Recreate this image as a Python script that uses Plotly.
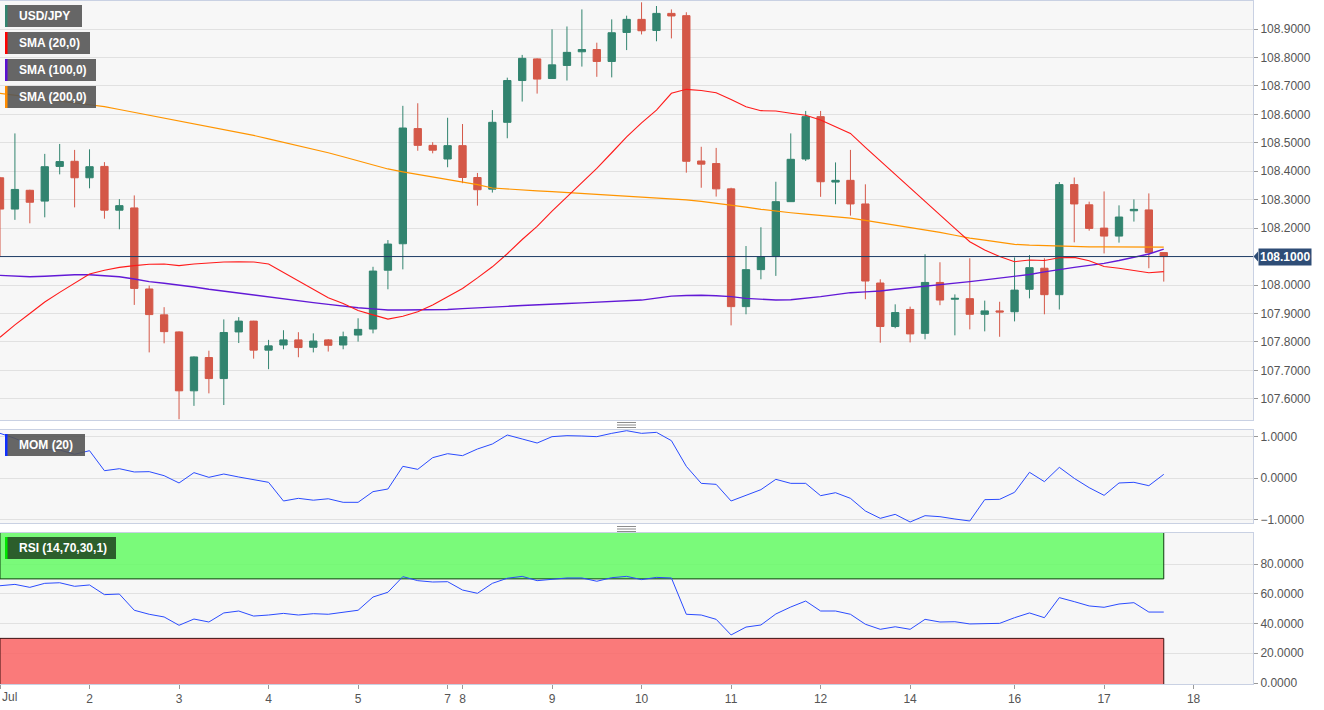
import plotly.graph_objects as go

# ---------------- data (4h candles, USD/JPY) ----------------
opens = [108.377,108.267,108.333,108.295,108.417,108.435,108.377,108.417,108.263,108.271,
         107.986,107.895,107.835,107.628,107.745,107.671,107.835,107.873,107.771,107.789,
         107.807,107.781,107.807,107.789,107.824,107.845,108.052,108.145,108.550,108.491,
         108.443,108.490,108.378,108.337,108.572,108.719,108.795,108.726,108.772,108.820,
         108.828,108.786,108.888,108.934,108.895,108.955,108.947,108.436,108.427,108.338,
         107.924,108.054,108.100,108.293,108.443,108.592,108.362,108.368,108.285,108.007,
         107.854,107.914,107.830,108.009,107.950,107.952,107.897,107.909,107.906,107.985,
         108.059,107.966,108.353,108.282,108.200,108.172,108.261,108.264,108.114]
highs = [108.380,108.533,108.335,108.461,108.496,108.475,108.477,108.432,108.302,108.315,
         107.998,107.922,107.837,107.749,107.769,107.879,107.887,107.874,107.807,107.841,
         107.834,107.830,107.810,107.836,107.883,108.064,108.158,108.630,108.639,108.502,
         108.588,108.566,108.394,108.615,108.729,108.809,108.797,108.899,108.909,108.969,
         108.852,108.934,108.947,108.994,108.981,108.969,108.959,108.486,108.482,108.342,
         108.137,108.203,108.363,108.533,108.612,108.612,108.431,108.475,108.354,108.020,
         107.932,107.924,108.108,108.080,107.967,108.094,107.945,107.941,108.097,108.105,
         108.094,108.362,108.378,108.293,108.329,108.280,108.301,108.322,108.114]
lows = [108.100,108.229,108.217,108.238,108.389,108.273,108.340,108.233,108.196,107.930,
        107.763,107.795,107.528,107.575,107.619,107.578,107.796,107.741,107.704,107.774,
        107.746,107.763,107.766,107.774,107.801,107.830,107.985,108.055,108.472,108.463,
        108.414,108.358,108.279,108.325,108.516,108.645,108.673,108.726,108.719,108.768,
        108.732,108.730,108.826,108.881,108.857,108.867,108.395,108.342,108.311,107.858,
        107.897,108.020,108.032,108.292,108.436,108.310,108.284,108.244,107.950,107.797,
        107.848,107.798,107.809,107.929,107.823,107.844,107.837,107.818,107.872,107.953,
        107.897,107.914,108.150,108.191,108.111,108.149,108.223,108.059,108.012]
closes = [108.267,108.336,108.291,108.416,108.434,108.377,108.416,108.263,108.279,107.988,
          107.896,107.836,107.628,107.747,107.671,107.833,107.873,107.771,107.786,107.807,
          107.780,107.803,107.788,107.818,107.844,108.049,108.144,108.552,108.491,108.474,
          108.490,108.378,108.335,108.572,108.719,108.797,108.724,108.774,108.818,108.828,
          108.786,108.887,108.934,108.894,108.955,108.946,108.435,108.425,108.338,107.924,
          108.054,108.100,108.293,108.442,108.592,108.363,108.368,108.285,108.014,107.854,
          107.903,107.828,108.009,107.947,107.953,107.897,107.909,107.905,107.982,108.061,
          107.966,108.353,108.285,108.199,108.172,108.239,108.266,108.114,108.100]

sma20 = [107.816,107.860,107.900,107.940,107.974,108.008,108.039,108.052,108.062,108.068,
         108.073,108.074,108.068,108.074,108.078,108.081,108.082,108.081,108.074,108.045,
         108.015,107.985,107.955,107.935,107.910,107.895,107.880,107.890,107.906,107.930,
         107.958,107.988,108.025,108.064,108.110,108.160,108.206,108.260,108.310,108.360,
         108.410,108.465,108.521,108.570,108.615,108.674,108.688,108.684,108.676,108.652,
         108.627,108.613,108.612,108.604,108.597,108.580,108.557,108.533,108.484,108.436,
         108.389,108.342,108.294,108.247,108.199,108.152,108.123,108.100,108.082,108.088,
         108.086,108.096,108.097,108.085,108.065,108.059,108.050,108.043,108.047]
sma100 = [108.034,108.031,108.029,108.031,108.034,108.036,108.036,108.033,108.029,108.021,
          108.012,108.006,108.000,107.993,107.985,107.978,107.971,107.964,107.957,107.951,
          107.944,107.938,107.932,107.925,107.920,107.916,107.912,107.912,107.912,107.913,
          107.914,107.917,107.919,107.922,107.925,107.928,107.931,107.933,107.935,107.937,
          107.939,107.942,107.944,107.947,107.954,107.961,107.963,107.964,107.962,107.959,
          107.953,107.949,107.947,107.948,107.953,107.959,107.966,107.973,107.976,107.979,
          107.985,107.990,107.996,108.001,108.006,108.012,108.018,108.024,108.029,108.037,
          108.046,108.055,108.062,108.069,108.076,108.086,108.098,108.109,108.126]
sma200 = [108.674,108.668,108.661,108.654,108.647,108.641,108.634,108.627,108.617,108.607,
          108.598,108.588,108.578,108.567,108.557,108.547,108.536,108.526,108.514,108.502,
          108.488,108.476,108.465,108.451,108.436,108.422,108.408,108.398,108.389,108.380,
          108.372,108.364,108.353,108.341,108.337,108.334,108.331,108.328,108.325,108.322,
          108.318,108.315,108.312,108.309,108.305,108.302,108.299,108.294,108.288,108.281,
          108.274,108.266,108.259,108.254,108.249,108.244,108.240,108.235,108.227,108.219,
          108.211,108.203,108.195,108.185,108.175,108.165,108.158,108.151,108.143,108.140,
          108.138,108.136,108.135,108.134,108.134,108.134,108.133,108.133,108.133]

mom = [1.077,0.956,0.795,0.691,0.675,0.571,0.658,0.176,0.224,0.145,
       0.153,0.056,-0.120,0.129,0.016,0.096,0.024,-0.048,-0.104,-0.554,
       -0.490,-0.535,-0.500,-0.586,-0.586,-0.329,-0.265,0.281,0.209,0.490,
       0.586,0.538,0.699,0.819,1.036,0.940,0.843,0.996,1.020,1.012,
       0.996,1.076,1.140,1.076,1.100,0.900,0.281,-0.129,-0.153,-0.554,
       -0.426,-0.281,-0.032,-0.129,-0.129,-0.426,-0.354,-0.490,-0.795,-0.972,
       -0.876,-1.060,-0.908,-0.932,-0.988,-1.036,-0.522,-0.514,-0.345,0.137,
       -0.088,0.257,-0.008,-0.233,-0.418,-0.120,-0.104,-0.185,0.088]
rsi = [65.4,66.3,64.3,67.0,67.4,65.0,65.9,59.4,59.8,48.9,
       46.2,44.4,38.8,43.0,41.0,47.1,48.4,45.0,45.7,46.8,
       45.7,46.6,46.2,47.7,48.9,57.8,61.0,71.5,68.8,67.9,
       68.1,62.5,60.3,67.0,70.4,71.7,68.8,69.7,70.6,70.6,
       68.4,70.8,71.7,69.5,71.0,70.6,46.2,45.7,42.8,32.3,
       37.6,39.0,46.4,51.1,55.1,48.4,48.4,46.2,39.5,36.1,
       37.8,36.1,42.8,41.0,41.2,39.7,40.1,40.1,43.9,47.1,
       43.9,57.4,54.7,51.8,50.9,53.1,54.0,47.7,47.7]

last_price = 108.10
rsi_upper, rsi_lower = 70, 30

tick_labels = ["Jul", "2", "3", "4", "5", "7", "8", "9", "10", "11", "12", "14", "16", "17", "18"]
tick_candle = [0, 6, 12, 18, 24, 30, 31, 37, 43, 49, 55, 61, 68, 74, 80]

legend_names = ["USD/JPY", "SMA (20,0)", "SMA (100,0)", "SMA (200,0)"]
legend_colors = ["#32846f", "#ff0000", "#5a10d0", "#ff8c00"]

idx = list(range(len(closes)))

# ---------------- geometry helpers ----------------
W, H = 1324, 710
ML, MR, MT, MB = 0, 71, 1, 26
PW = W - ML - MR
PH = H - MT - MB
def fx(px):
    return (px - ML) / PW
def fy(py):
    return (H - MB - py) / PH

GREEN = "#32846f"
RED = "#d45848"
GRID = "#e1e1e1"
FRAME = "#c9d1e3"
TXT = "#555555"
FONT = "Arial, Liberation Sans, sans-serif"

fig = go.Figure()

fig.add_trace(go.Candlestick(
    x=idx, open=opens, high=highs, low=lows, close=closes,
    increasing=dict(line=dict(color=GREEN, width=1), fillcolor=GREEN),
    decreasing=dict(line=dict(color=RED, width=1), fillcolor=RED),
    whiskerwidth=0, showlegend=False, hoverinfo="skip",
    xaxis="x", yaxis="y"))
fig.add_trace(go.Scatter(x=idx, y=sma200, mode="lines", line=dict(color="#ff9500", width=1.2),
                         showlegend=False, hoverinfo="skip", xaxis="x", yaxis="y"))
fig.add_trace(go.Scatter(x=idx, y=sma100, mode="lines", line=dict(color="#6219d6", width=1.4),
                         showlegend=False, hoverinfo="skip", xaxis="x", yaxis="y"))
fig.add_trace(go.Scatter(x=idx, y=sma20, mode="lines", line=dict(color="#ff1a1a", width=1.1),
                         showlegend=False, hoverinfo="skip", xaxis="x", yaxis="y"))
fig.add_trace(go.Scatter(x=idx, y=mom, mode="lines", line=dict(color="#2a4bff", width=1),
                         showlegend=False, hoverinfo="skip", xaxis="x2", yaxis="y2"))
fig.add_trace(go.Scatter(x=idx, y=rsi, mode="lines", line=dict(color="#2a4bff", width=1),
                         showlegend=False, hoverinfo="skip", xaxis="x3", yaxis="y3"))

xr = [0, PW / 14.92]
common_x = dict(range=xr, showgrid=False, zeroline=False, showline=True, mirror=True,
                linecolor=FRAME, linewidth=1, fixedrange=True)
common_y = dict(side="right", showgrid=True, gridcolor=GRID, gridwidth=1, zeroline=False,
                showline=True, mirror=True, linecolor=FRAME, linewidth=1,
                ticks="outside", ticklen=4, tickcolor="#999999", tickformat=".4f",
                tickfont=dict(family=FONT, size=12, color=TXT))

tt = [""] + tick_labels[1:]
fig.update_layout(
    width=W, height=H,
    margin=dict(l=ML, r=MR, t=MT, b=MB, pad=0),
    paper_bgcolor="white", plot_bgcolor="#f7f7f7",
    font=dict(family=FONT, size=12, color=TXT),
    showlegend=False,
    xaxis=dict(common_x, domain=[0, 1], anchor="y", showticklabels=False, ticks="",
               rangeslider=dict(visible=False)),
    xaxis2=dict(common_x, domain=[0, 1], anchor="y2", matches="x", showticklabels=False, ticks=""),
    xaxis3=dict(common_x, domain=[0, 1], anchor="y3", matches="x", tickmode="array",
                tickvals=tick_candle, ticktext=tt, ticks="outside", ticklen=4, tickcolor="#999999",
                tickfont=dict(family=FONT, size=12, color=TXT)),
    yaxis=dict(common_y, domain=[fy(420), fy(1)], anchor="x",
               range=[108.0 - (420 - 285) / 284.4, 108.0 + (285 - 1) / 284.4],
               tick0=107.6, dtick=0.1),
    yaxis2=dict(common_y, domain=[fy(523), fy(430)], anchor="x2",
                range=[-(523 - 478) / 41.5, (478 - 430) / 41.5],
                tickmode="array", tickvals=[-1, 0, 1]),
    yaxis3=dict(common_y, domain=[fy(684), fy(533)], anchor="x3",
                range=[(683 - 684) / 1.4875, (683 - 533) / 1.4875],
                tickmode="array", tickvals=[0, 20, 40, 60, 80]),
)

shapes = []
# RSI zones (semi-transparent, drawn above the grid so grid lines show darker through them)
shapes.append(dict(type="rect", xref="x3", yref="y3", x0=0, x1=idx[-1], y0=rsi_upper, y1=110,
                   fillcolor="rgba(108,250,108,0.9)", line=dict(color="#0f3d0f", width=1),
                   layer="between"))
shapes.append(dict(type="rect", xref="x3", yref="y3", x0=0, x1=idx[-1], y0=-10, y1=rsi_lower,
                   fillcolor="rgba(250,108,108,0.9)", line=dict(color="#3d0f0f", width=1),
                   layer="between"))
# last price line
shapes.append(dict(type="line", xref="paper", yref="y", x0=0, x1=1, y0=last_price, y1=last_price,
                   line=dict(color="#1f3d66", width=1), layer="above"))
# price tag arrow
py_lp = 285 - (last_price - 108.0) * 284.4
shapes.append(dict(type="path", xref="paper", yref="paper",
                   path=f"M {fx(1253.5)},{fy(py_lp)} L {fx(1258)},{fy(py_lp-5)} L {fx(1258)},{fy(py_lp+5)} Z",
                   fillcolor="#2e4d76", line=dict(width=0), layer="above"))
# grips between panels
for base in (422.5, 526.5):
    for k in range(3):
        yy = base + 2.5 * k
        shapes.append(dict(type="line", xref="paper", yref="paper", x0=fx(617), x1=fx(636),
                           y0=fy(yy), y1=fy(yy), line=dict(color="#8c8c8c", width=1), layer="above"))

annotations = []
# legend boxes of main panel
box_right = [82, 90, 96, 96]
for k, (name, col) in enumerate(zip(legend_names, legend_colors)):
    top = 5 + 27 * k
    bot = top + 22
    shapes.append(dict(type="rect", xref="paper", yref="paper", x0=fx(5), x1=fx(box_right[k]),
                       y0=fy(bot), y1=fy(top), fillcolor="rgba(85,85,85,0.9)",
                       line=dict(width=0), layer="above"))
    shapes.append(dict(type="rect", xref="paper", yref="paper", x0=fx(5), x1=fx(7.5),
                       y0=fy(bot), y1=fy(top), fillcolor=col, line=dict(width=0), layer="above"))
    annotations.append(dict(xref="paper", yref="paper", x=fx(17), y=fy((top + bot) / 2),
                            xanchor="left", yanchor="middle", showarrow=False,
                            text=f"<b>{name}</b>", font=dict(family=FONT, size=12, color="white")))
# MOM label
shapes.append(dict(type="rect", xref="paper", yref="paper", x0=fx(5), x1=fx(85),
                   y0=fy(456), y1=fy(434), fillcolor="rgba(85,85,85,0.9)", line=dict(width=0), layer="above"))
shapes.append(dict(type="rect", xref="paper", yref="paper", x0=fx(5), x1=fx(7.5),
                   y0=fy(456), y1=fy(434), fillcolor="#1030ff", line=dict(width=0), layer="above"))
annotations.append(dict(xref="paper", yref="paper", x=fx(17), y=fy(445), xanchor="left",
                        yanchor="middle", showarrow=False, text="<b>MOM (20)</b>",
                        font=dict(family=FONT, size=12, color="white")))
# RSI label
shapes.append(dict(type="rect", xref="paper", yref="paper", x0=fx(5), x1=fx(116),
                   y0=fy(559), y1=fy(537), fillcolor="rgba(40,85,40,0.95)", line=dict(width=0), layer="above"))
shapes.append(dict(type="rect", xref="paper", yref="paper", x0=fx(5), x1=fx(7.5),
                   y0=fy(559), y1=fy(537), fillcolor="#00e600", line=dict(width=0), layer="above"))
annotations.append(dict(xref="paper", yref="paper", x=fx(17), y=fy(548), xanchor="left",
                        yanchor="middle", showarrow=False, text="<b>RSI (14,70,30,1)</b>",
                        font=dict(family=FONT, size=12, color="white")))
# price tag
annotations.append(dict(xref="paper", yref="y", x=fx(1257.5), y=last_price, xanchor="left",
                        yanchor="middle", showarrow=False, text=f"<b>{last_price:.4f}</b>",
                        bgcolor="#2e4d76", borderpad=1,
                        font=dict(family=FONT, size=12, color="white")))
# first x label (left aligned at the plot edge)
annotations.append(dict(xref="paper", yref="paper", x=0, y=fy(697), xanchor="left",
                        yanchor="middle", showarrow=False, text=tick_labels[0],
                        font=dict(family=FONT, size=12, color=TXT)))

fig.update_layout(shapes=shapes, annotations=annotations)
fig.write_html("out.html")
